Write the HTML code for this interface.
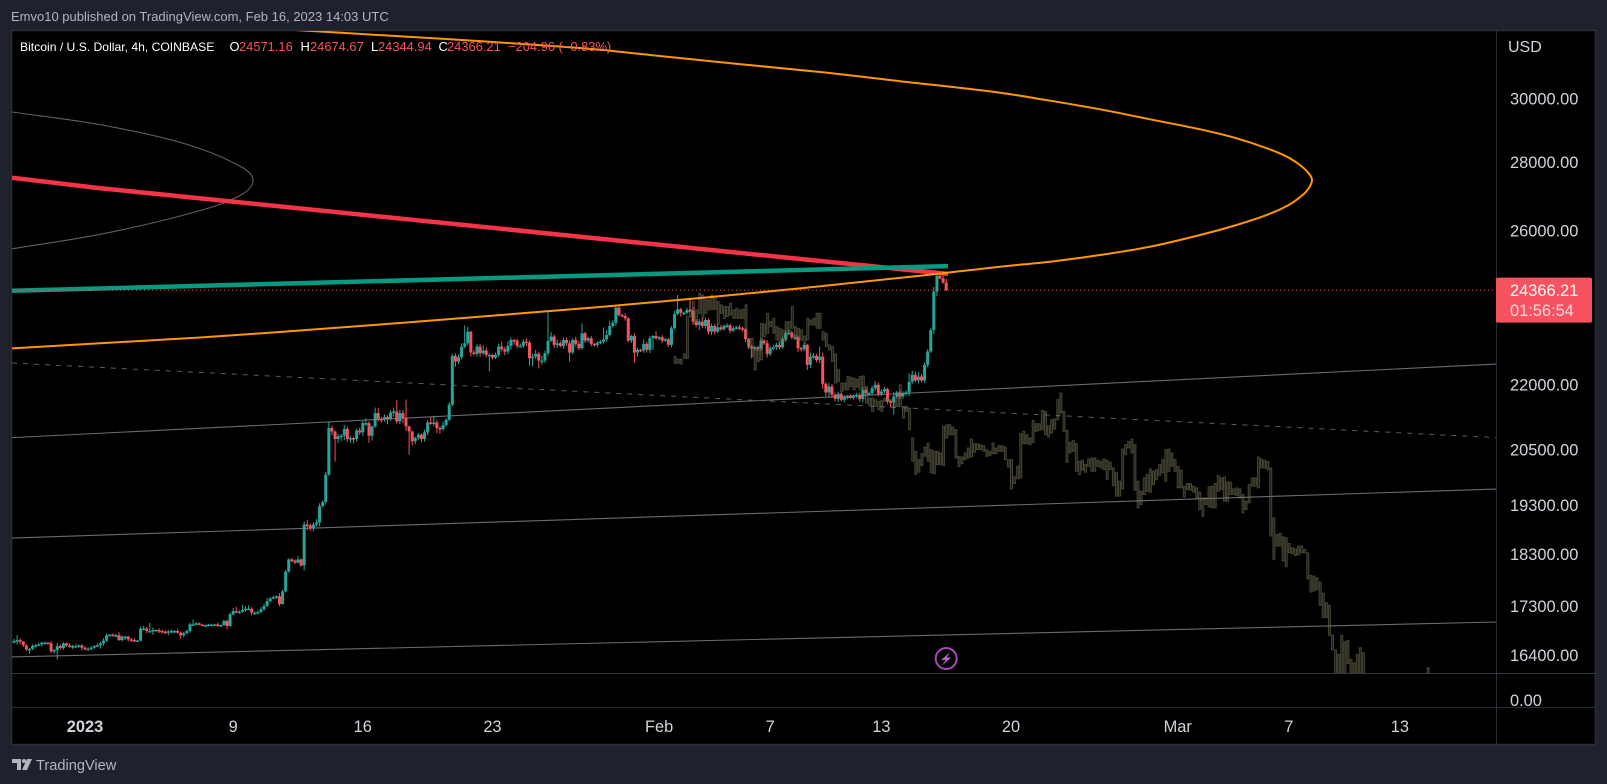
<!DOCTYPE html>
<html lang="en">
<head>
<meta charset="utf-8">
<title>BTCUSD 4h chart</title>
<style>
html,body{margin:0;padding:0;background:#1e222d;width:1607px;height:784px;overflow:hidden}
svg{display:block}
text{font-family:"Liberation Sans",sans-serif}
</style>
</head>
<body>
<svg id="chart" xmlns="http://www.w3.org/2000/svg" width="1607" height="784" viewBox="0 0 1607 784">
  <defs>
    <clipPath id="pane-clip"><rect x="12" y="31" width="1484" height="642"/></clipPath>
  </defs>
  <rect x="0" y="0" width="1607" height="784" fill="#1e222d"/>
  <text x="11" y="21" font-size="13" fill="#b2b5be">Emvo10 published on TradingView.com, Feb 16, 2023 14:03 UTC</text>
  <rect x="11.5" y="30.5" width="1584" height="714" fill="#000000" stroke="#2a2e39" stroke-width="1.5"/>
  <line x1="1496.5" y1="31" x2="1496.5" y2="745" stroke="#2a2e39"/>
  <line x1="12" y1="673.5" x2="1596" y2="673.5" stroke="#363a45"/>
  <line x1="12" y1="707.5" x2="1596" y2="707.5" stroke="#2a2e39"/>

  <g id="lines-under" clip-path="url(#pane-clip)"></g>
  <g id="candles" clip-path="url(#pane-clip)"></g>
  <g id="ghost" clip-path="url(#pane-clip)"></g>
  <g id="lines-over" clip-path="url(#pane-clip)"></g>

  <g font-size="12.9">
    <text x="20" y="51" font-size="12.15" fill="#ffffff">Bitcoin / U.S. Dollar, 4h, COINBASE</text>
    <text x="229.5" y="51" fill="#ffffff">O</text>
    <text x="239" y="51" fill="#f7525f">24571.16</text>
    <text x="300.5" y="51" fill="#ffffff">H</text>
    <text x="310" y="51" fill="#f7525f">24674.67</text>
    <text x="371" y="51" fill="#ffffff">L</text>
    <text x="378" y="51" fill="#f7525f">24344.94</text>
    <text x="438.5" y="51" fill="#ffffff">C</text>
    <text x="447" y="51" fill="#f7525f">24366.21</text>
    <text x="508" y="51" fill="#f7525f">−204.96 (−0.83%)</text>
  </g>

  <text x="1508" y="52" font-size="16" fill="#d1d4dc">USD</text>
  <g id="price-ticks" font-size="16.4" fill="#d1d4dc"></g>
  <text x="1510" y="706" font-size="16.4" fill="#d1d4dc">0.00</text>
  <g id="time-ticks" font-size="16.4" fill="#d1d4dc" text-anchor="middle"></g>

  <g id="last-price"></g>
  <g id="flash-icon"></g>

  <g>
    <path fill="#b2b5be" d="M12 759h9v11h-4v-7h-5z"/>
    <circle cx="24" cy="761" r="2" fill="#b2b5be"/>
    <path fill="#b2b5be" d="M27 759h5l-5 11h-5z"/>
    <text x="36" y="770" font-size="14.6" fill="#b2b5be">TradingView</text>
  </g>
</svg>
<script>
// ---- axis tick data ----
const priceTicks = [30000, 28000, 26000, 22000, 20500, 19300, 18300, 17300, 16400];
const timeTickDays = [0, 8, 15, 22, 31, 37, 43, 50, 59, 65, 71];
const timeTickLabels = ["2023", "9", "16", "23", "Feb", "7", "13", "20", "Mar", "7", "13"];

// ---- candlestick series (4h bars, first bar 28 Dec 04:00; day 0 = 1 Jan) ----
const firstBarDay = -3.833;
const firstOpen = 16640;
const closes = [
16650,16668,16640,16573,16500,16510,16560,16575,16590,16620,
16620,16609,16465,16488,16560,16524,16609,16570,16548,16560,
16560,16573,16530,16510,16510,16530,16560,16573,16609,16658,
16754,16766,16754,16754,16668,16730,16730,16681,16668,16650,
16660,16877,16877,16833,16833,16852,16852,16833,16821,16803,
16827,16833,16833,16803,16754,16790,16833,16955,16955,16974,
16950,16937,16937,16950,16950,16955,16925,16940,17017,16925,
17140,17200,17190,17190,17220,17245,17245,17170,17170,17183,
17233,17295,17388,17440,17460,17478,17333,17573,17957,18192,
18170,18130,18192,18075,18895,18875,18813,18895,18936,19275,
19360,19947,20981,20903,20731,20791,20806,20958,20731,20754,
20731,20926,20881,21093,21093,20806,21017,21323,21186,21170,
21232,21186,21339,21362,21131,21323,21209,21017,20903,20679,
20754,20829,20731,20881,21108,21093,21108,20981,20958,21050,
21170,21518,22689,22549,22657,22920,23002,23293,22771,22739,
22920,22755,22822,22714,22714,22647,22714,22920,22855,22796,
22936,23085,23068,22936,22936,23043,23018,22632,22672,22739,
22573,22573,22755,23060,23170,22961,23002,22936,23085,23002,
22771,23085,22986,22879,23253,23068,23128,22986,22961,23018,
23043,23100,23210,23437,23522,23908,23719,23693,23634,23068,
23185,22771,22838,22822,22986,22838,23128,23185,23128,23153,
23068,23103,22961,23379,23744,23866,23778,23778,23848,23830,
23547,23463,23547,23437,23590,23293,23437,23293,23404,23354,
23437,23453,23318,23379,23404,23379,23354,23103,22920,22879,
22904,22870,23068,23002,22739,22879,22904,22961,22904,23103,
23253,23268,23153,23153,22879,22855,22961,22469,22672,22689,
22590,22672,22012,21806,21948,21752,21658,21775,21635,21697,
21713,21697,21713,21752,21651,21870,21790,21790,21908,21988,
21775,21830,21885,21596,21573,21713,21806,21713,21790,21806,
22060,22228,22091,22187,22091,22469,22797,23336,24328,24745,
24680,24571.16,24366.21
];
const wickUp = [
40,90,30,10,20,15,30,20,30,20,
25,15,40,20,60,30,20,15,40,25,
40,15,20,25,30,30,15,40,25,45,
35,10,20,30,60,25,15,20,30,35,
15,40,50,30,150,45,15,30,20,25,
25,30,15,40,20,30,25,30,90,25,
15,10,15,15,15,15,30,10,25,25,
35,60,80,30,100,40,60,25,25,30,
40,45,60,20,30,20,60,30,30,20,
30,25,70,20,60,90,40,50,70,60,
30,60,140,60,20,60,40,90,60,50,
30,40,60,50,110,40,20,130,120,50,
60,40,50,90,270,80,70,430,20,20,
30,40,30,60,50,120,160,60,40,80,
30,60,50,60,70,80,450,120,20,60,
60,60,130,70,40,20,60,70,120,60,
110,60,30,50,60,60,80,50,70,100,
50,120,60,750,120,50,90,60,60,60,
60,40,80,70,250,40,40,60,30,30,
40,300,120,140,60,40,60,30,70,20,
30,60,50,30,110,60,60,20,120,30,
50,40,40,60,80,370,40,30,60,300,
90,60,70,90,60,40,60,50,100,60,
40,50,40,60,40,60,40,30,30,40,
30,40,60,30,80,50,60,50,70,60,
60,60,50,70,40,30,40,30,100,70,
50,250,100,40,80,60,50,50,40,40,
30,40,40,50,50,60,50,40,50,90,
60,50,50,30,40,100,40,50,40,50,
200,100,80,100,60,60,60,50,120,80,
20,130,103.67
];
const wickDown = [
30,60,40,30,25,80,20,30,20,40,
30,20,30,40,170,25,30,20,15,40,
20,30,50,25,30,15,20,15,60,40,
20,20,20,30,15,25,60,40,30,20,
10,15,30,40,30,70,15,40,30,25,
50,30,40,20,60,40,10,30,20,15,
15,10,10,15,10,20,15,20,10,60,
15,20,30,40,20,30,25,50,40,30,
20,30,15,20,15,25,40,15,20,25,
40,30,15,25,100,100,50,60,40,80,
30,50,30,80,500,90,100,100,60,80,
100,60,60,80,60,160,110,30,60,60,
50,120,40,100,50,60,120,100,520,90,
60,40,70,60,70,40,70,120,100,50,
40,30,40,130,60,60,40,50,100,40,
70,90,50,60,400,50,40,50,60,90,
70,90,100,60,40,50,80,180,200,60,
190,100,60,60,30,70,80,40,70,60,
220,50,60,50,40,60,50,60,40,70,
40,50,60,40,40,80,40,30,60,40,
60,250,100,40,60,70,80,290,40,50,
60,30,50,60,40,30,100,60,40,30,
80,60,120,50,70,60,90,70,40,40,
30,50,60,40,30,50,60,70,60,250,
60,70,60,40,90,50,50,70,50,40,
60,40,50,70,100,60,50,120,80,60,
60,80,120,90,100,70,60,80,40,60,
50,40,60,40,60,80,60,50,50,60,
60,50,40,60,120,290,40,60,50,60,
90,60,40,70,50,60,60,40,100,120,
30,40,21.27
];

// ---- projected bars pattern (olive ghost bars) ----
const ghostFirstDay = 31.86;
const ghostHighs = [
22672,22607,22607,22739,23675,23866,24066,23848,24285,24240,
24110,24110,24240,24197,24066,23980,23935,23935,24024,23848,
23893,23848,23866,23980,23128,23128,22879,22879,23505,23489,
23761,23547,23634,23420,23379,23336,23547,23547,23935,23420,
23379,23336,23185,23634,23590,23634,23761,23761,23293,23253,
22961,22920,22739,22348,22028,22028,22187,22170,22147,22123,
22187,22203,21948,21674,21674,21635,21596,21620,21674,21674,
21635,21635,21713,21988,21479,21479,21440,20754,20457,20273,
20405,20553,20642,20494,20457,20457,20420,21018,21056,21056,
21003,20942,20347,20332,20420,20531,20731,20626,20626,20605,
20583,20494,20457,20642,20531,20583,20583,20553,20273,20273,
19897,20127,20852,20905,20829,20754,21155,21079,21079,
21387,21363,21033,21170,21185,21635,21790,21363,20927,20656,
20694,20626,20237,20259,20164,20288,20310,20310,20259,20237,
20288,20259,20215,20091,19984,19804,20509,20605,20679,20731,
20605,19804,19590,19876,19948,20070,20019,20055,20164,20273,
20494,20509,20420,20273,20127,20041,19697,19754,19754,19697,
19662,19569,19450,19450,19683,19697,19754,19926,19876,19897,
19783,19783,19640,19662,19640,19520,19380,19733,19876,19876,
20332,20288,20259,20237,20092,19032,18690,18712,18644,18623,
18510,18423,18403,18457,18457,18390,18324,17880,17867,17835,
17750,17535,17358,17308,16757,16490,16410,16757,16640,16660,
16323,16260,16410,16530,16440,null,null,null,null,null,
null,null,null,null,null,null,null,null,null,null,
null,null,null,null,null,16175
];
const ghostLows = [
22508,22508,22492,22632,22632,23675,23547,23547,23761,23634,
23761,23848,23866,23866,23489,23761,23634,23675,23719,23634,
23634,23634,23634,23153,22879,22672,22348,22549,22590,23170,
23253,23420,23253,23085,23002,23043,23085,23293,23379,23128,
23085,23085,23002,23085,23463,23463,23379,23379,23085,22920,
22838,22549,22028,22067,21830,21870,21870,21948,21870,21932,
21870,21908,21558,21518,21363,21479,21402,21363,21596,21596,
21596,21479,21479,21479,21209,21363,20942,20237,19948,19998,
20144,20347,20237,19984,19969,20164,20164,20144,20754,20829,
20829,20310,20127,20186,20273,20310,20332,20435,20494,20494,
20457,20347,20362,20405,20405,20457,20457,20273,20113,19640,
19754,19855,19876,20626,20626,20605,20656,20905,20927,
20942,20829,20776,20867,20957,21170,21325,20905,20215,20420,
20457,20019,19948,20041,19998,20127,20019,20019,20127,20091,
20055,19840,20055,19712,19485,19485,19640,20383,20531,20420,
19612,19240,19310,19520,19590,19569,19733,19840,19926,19984,
19804,20019,20127,20019,19662,19662,19470,19626,19612,19569,
19450,19205,19067,19310,19260,19240,19240,19590,19626,19380,
19380,19520,19520,19500,19450,19136,19205,19345,19697,19697,
19662,20091,20091,20055,18660,18192,18457,18457,18160,18048,
18324,18310,18270,18290,18324,18324,17815,17560,17580,17611,
17308,17080,17080,16757,16490,15950,15950,15950,15950,16250,
15950,15950,15950,15950,15950,null,null,null,null,null,
null,null,null,null,null,null,null,null,null,null,
null,null,null,null,null,15950
];

// ---- drawing anchors: days since 1 Jan and prices ----
const channelStartDay = -3.94;
const channelEndDay = 76.2;
const channelTopPrices = [20763, 22490];
const channelMidPrices = [18620, 19637];
const channelLowPrices = [16366, 16998];
const dashedPrices = [22515, 20763];
const redDays = [-3.94, 0.65, 46.6];
const redPrices = [27530, 27225, 24800];
const greenDays = [-3.94, 46.6];
const greenPrices = [24350, 25010];
const orangeDays = [-3.94, 6.21, 17.01, 27.81, 38.61, 46.0, 49.41, 52.11, 54.81, 57.51, 60.21, 61.99, 63.82, 64.90, 65.60, 66.04, 66.25, 66.04, 65.60, 64.90, 63.82, 61.99, 60.21, 57.51, 54.81, 52.11, 49.41, 44.0, 39.69, 35.0, 30.51, 26.89, 19.71, 11.34, 8.91];
const orangePrices = [22873, 23146, 23513, 23926, 24412, 24799, 24996, 25131, 25315, 25544, 25869, 26123, 26439, 26698, 26950, 27187, 27461, 27681, 27911, 28165, 28423, 28764, 29014, 29330, 29652, 29928, 30190, 30570, 30876, 31162, 31450, 31680, 31990, 32316, 32420];
const greyArcDays = [-3.94, 0.92, 5.35, 8.15, 9.07, 8.42, 5.94, 0.92, -3.94];
const greyArcPrices = [29564, 29149, 28571, 27941, 27478, 27018, 26522, 25900, 25486];
const lastPrice = 24366.21;
const lastPriceText = "24366.21";
const countdownText = "01:56:54";
const eventDay = 46.5;

// ---- axis functions ----
function xScale(day) { return 85 + 18.52 * day; }
function yScale(price) { return 98.5 + 921.5 * Math.log(30000 / price); }

const SVGNS = "http://www.w3.org/2000/svg";
function make(tag, attrs, parent) {
  const el = document.createElementNS(SVGNS, tag);
  for (const k in attrs) el.setAttribute(k, attrs[k]);
  parent.appendChild(el);
  return el;
}
function smoothPath(pts) {
  let d = "M" + pts[0][0].toFixed(1) + " " + pts[0][1].toFixed(1);
  for (let i = 0; i < pts.length - 1; i++) {
    const p0 = pts[Math.max(i - 1, 0)], p1 = pts[i], p2 = pts[i + 1], p3 = pts[Math.min(i + 2, pts.length - 1)];
    // tangent scaled by local segment length to avoid kinks with uneven anchor spacing
    const seg = Math.hypot(p2[0] - p1[0], p2[1] - p1[1]);
    const l1 = Math.hypot(p2[0] - p0[0], p2[1] - p0[1]) || 1;
    const l2 = Math.hypot(p3[0] - p1[0], p3[1] - p1[1]) || 1;
    const c1x = p1[0] + (p2[0] - p0[0]) / l1 * seg / 3, c1y = p1[1] + (p2[1] - p0[1]) / l1 * seg / 3;
    const c2x = p2[0] - (p3[0] - p1[0]) / l2 * seg / 3, c2y = p2[1] - (p3[1] - p1[1]) / l2 * seg / 3;
    d += "C" + c1x.toFixed(1) + " " + c1y.toFixed(1) + " " + c2x.toFixed(1) + " " + c2y.toFixed(1) + " " + p2[0].toFixed(1) + " " + p2[1].toFixed(1);
  }
  return d;
}
function toPts(days, prices) { return days.map((d, i) => [xScale(d), yScale(prices[i])]); }

// ---- lines beneath the candles ----
const under = document.getElementById("lines-under");
const channelSets = [channelTopPrices, channelMidPrices, channelLowPrices];
channelSets.forEach(function (set) {
  const ln = make("line", {x1: xScale(channelStartDay), y1: yScale(set[0]), x2: xScale(channelEndDay), y2: yScale(set[1]), stroke: "#6a6a76", "stroke-width": 1.1}, under);
  
  
});
const dashed = make("line", {x1: xScale(channelStartDay), y1: yScale(dashedPrices[0]), x2: xScale(channelEndDay), y2: yScale(dashedPrices[1]), stroke: "#5c5c66", "stroke-width": 1, "stroke-dasharray": "5 6"}, under);


const greyArc = make("path", {d: smoothPath(toPts(greyArcDays, greyArcPrices)), fill: "none", stroke: "#5f5f66", "stroke-width": 1.1}, under);



// ---- candles ----
const candleGroup = document.getElementById("candles");
closes.forEach(function (c, i) {
  const o = i === 0 ? firstOpen : closes[i - 1];
  const up = c >= o;
  const color = up ? "#26a69a" : "#f7525f";
  const x = xScale(firstBarDay + i / 6);
  const high = Math.max(o, c) + (wickUp[i] || 0);
  const low = Math.min(o, c) - (wickDown[i] || 0);
  const yTop = yScale(Math.max(o, c)), yBot = yScale(Math.min(o, c));
  const wick = make("line", {x1: x, x2: x, y1: yScale(high), y2: yScale(low), stroke: color, "stroke-width": 1}, candleGroup);
  
  
  const body = make("rect", {x: x - 1.5, y: yTop, width: 3, height: Math.max(yBot - yTop, 1.5), fill: color}, candleGroup);
  
  
});

// ---- ghost bars ----
const ghostGroup = document.getElementById("ghost");
ghostHighs.forEach(function (h, i) {
  const l = ghostLows[i];
  if (h === null || l === null) return;
  const x = xScale(ghostFirstDay + i / 6);
  const yTop = yScale(h), yBot = yScale(l);
  const bar = make("rect", {x: x - 1, y: yTop, width: 2, height: Math.max(yBot - yTop, 1), fill: "rgba(110,108,80,0.25)", stroke: "rgba(125,123,92,0.5)", "stroke-width": 1}, ghostGroup);
  
  
});

// ---- thick drawings ----
const over = document.getElementById("lines-over");
const red = make("path", {d: "M" + toPts(redDays, redPrices).map(p => p[0].toFixed(1) + " " + p[1].toFixed(1)).join("L"), fill: "none", stroke: "#f7334a", "stroke-width": 4.5}, over);


const green = make("path", {d: "M" + toPts(greenDays, greenPrices).map(p => p[0].toFixed(1) + " " + p[1].toFixed(1)).join("L"), fill: "none", stroke: "#089981", "stroke-width": 4.5}, over);


const orange = make("path", {d: smoothPath(toPts(orangeDays, orangePrices)), fill: "none", stroke: "#ff9800", "stroke-width": 2}, over);



// ---- axis labels ----
const priceGroup = document.getElementById("price-ticks");
priceTicks.forEach(function (p) {
  const t = make("text", {x: 1510, y: yScale(p) + 6}, priceGroup);
  
  
  t.textContent = p.toFixed(2);
});
const timeGroup = document.getElementById("time-ticks");
timeTickDays.forEach(function (d, i) {
  const t = make("text", {x: xScale(d), y: 732}, timeGroup);
  
  
  if (timeTickLabels[i] === "2023") t.setAttribute("font-weight", "700");
  t.textContent = timeTickLabels[i];
});

// ---- last price marker ----
const lastGroup = document.getElementById("last-price");
const lastY = yScale(lastPrice);
const dots = make("line", {x1: 12, x2: 1496, y1: lastY, y2: lastY, stroke: "#f7525f", "stroke-width": 1, "stroke-dasharray": "1 3"}, lastGroup);


const tag = make("rect", {x: 1496, y: lastY - 12.5, width: 96, height: 45, rx: 2, fill: "#f7525f"}, lastGroup);


const tagValue = make("text", {x: 1510, y: lastY + 6, "font-size": 16.4, fill: "#ffffff"}, lastGroup);


tagValue.textContent = lastPriceText;
const tagTime = make("text", {x: 1510, y: lastY + 26, "font-size": 16.4, fill: "#ffd9dc"}, lastGroup);


tagTime.textContent = countdownText;

// ---- lightning icon ----
const flash = document.getElementById("flash-icon");
const fx = xScale(eventDay);
const ring = make("circle", {cx: fx, cy: 658.5, r: 10.5, fill: "#000", stroke: "#ab47bc", "stroke-width": 2}, flash);


const bolt = make("path", {d: "M" + (fx + 4) + " 652L" + (fx - 5) + " 660H" + (fx - 0.5) + "L" + (fx - 4) + " 665.5L" + (fx + 5) + " 657.5H" + (fx + 0.5) + "Z", fill: "#ba68c8"}, flash);


</script>
</body>
</html>
